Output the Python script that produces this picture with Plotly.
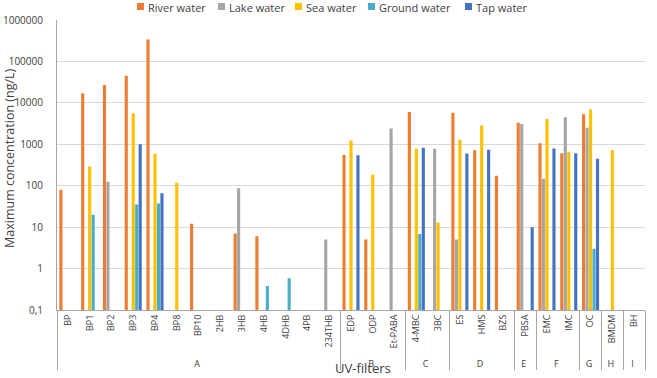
import plotly.graph_objects as go

names = ["BP", "BP1", "BP2", "BP3", "BP4", "BP8", "BP10", "2HB", "3HB", "4HB", "4DHB", "4PB", "234THB",
         "EDP", "ODP", "Et-PABA", "4-MBC", "3BC", "ES", "HMS", "BZS", "PBSA", "EMC", "IMC", "OC", "BMDM", "BH"]
groups = ["A"] * 13 + ["B"] * 3 + ["C"] * 2 + ["D"] * 3 + ["E"] + ["F"] * 2 + ["G"] + ["H"] + ["I"]

river = [80, 17000, 27000, 45000, 340000, None, 12, None, 7, 6, None, None, None,
         550, 5, None, 6000, None, 5800, 720, 175, 3300, 1060, 610, 5300, None, None]
lake = [None, None, 125, None, None, None, None, None, 87, None, None, None, 5,
        None, None, 2400, None, 780, 5, None, None, 3100, 148, 4500, 2500, None, None]
sea = [None, 290, None, 5600, 590, 118, None, None, None, None, None, None, None,
       1230, 185, None, 780, 13, 1280, 2850, None, None, 4100, 660, 6900, 730, None]
ground = [None, 20, None, 35, 37, None, None, None, None, 0.38, 0.58, None, None,
          None, None, None, 6.8, None, None, None, None, None, None, None, 3.0, None, None]
tap = [None, None, None, 1000, 66, None, None, None, None, None, None, None, None,
       545, None, None, 820, None, 600, 735, None, 10, 790, 610, 450, None, None]

series = [("River water", river, "#ED7D31"), ("Lake water", lake, "#A5A5A5"),
          ("Sea water", sea, "#FFC000"), ("Ground water", ground, "#4BACC6"),
          ("Tap water", tap, "#4472C4")]

yticks = [0.1, 1, 10, 100, 1000, 10000, 100000, 1000000]
yticklabels = ["0,1", "1", "10", "100", "1000", "10000", "100000", "1000000"]

fig = go.Figure()
for name, vals, col in series:
    fig.add_trace(go.Bar(x=[groups, names], y=vals, name=name, marker_color=col,
                         marker_line_width=0, showlegend=False))

font = "Open Sans, Liberation Sans, sans-serif"
L, R, T, B = 57, 12, 20, 68
PW, PH = 657 - L - R, 378 - T - B


def px(x):
    return (x - L) / PW


def py(y):
    return (378 - B - y) / PH


fig.update_layout(
    width=657, height=378,
    margin=dict(l=L, r=R, t=T, b=B, autoexpand=False),
    paper_bgcolor="white", plot_bgcolor="white",
    barmode="group", bargap=0.2, bargroupgap=0.1,
    font=dict(family=font, size=10, color="#404040"),
    showlegend=False,
)
fig.update_yaxes(type="log", range=[-1, 6], tickvals=yticks, ticktext=yticklabels,
                 showgrid=True, gridcolor="#D9D9D9", gridwidth=1,
                 showline=True, linecolor="#A6A6A6", linewidth=1,
                 ticks="", ticklabelstandoff=11,
                 tickfont=dict(size=10, color="#404040"), automargin=False)
fig.update_xaxes(type="multicategory", tickangle=-90, showline=True, linecolor="#A6A6A6",
                 linewidth=1, showdividers=True, dividercolor="#A6A6A6", dividerwidth=1,
                 ticks="", tickfont=dict(size=9, color="#404040"), automargin=False)

# legend drawn as key squares + text
legend_x = [137, 218, 295, 368, 465]
for (name, vals, col), lx in zip(series, legend_x):
    fig.add_shape(type="rect", xref="paper", yref="paper",
                  x0=px(lx), x1=px(lx + 7), y0=py(10), y1=py(3),
                  fillcolor=col, line_width=0)
    fig.add_annotation(text=name, xref="paper", yref="paper", x=px(lx + 9), y=py(7),
                       xanchor="left", yanchor="middle", showarrow=False,
                       font=dict(size=11, color="#404040"))

fig.add_annotation(text="UV-filters", xref="paper", yref="paper", x=px(363),
                   y=py(368), xanchor="center", yanchor="middle", showarrow=False,
                   font=dict(size=13, color="#404040"))
fig.add_annotation(text="Maximum concentration (ng/L)", xref="paper", yref="paper",
                   x=px(9), y=py(158), xanchor="center", yanchor="middle", textangle=-90,
                   showarrow=False, font=dict(size=12.5, color="#404040"))

fig.write_html("out.html")
